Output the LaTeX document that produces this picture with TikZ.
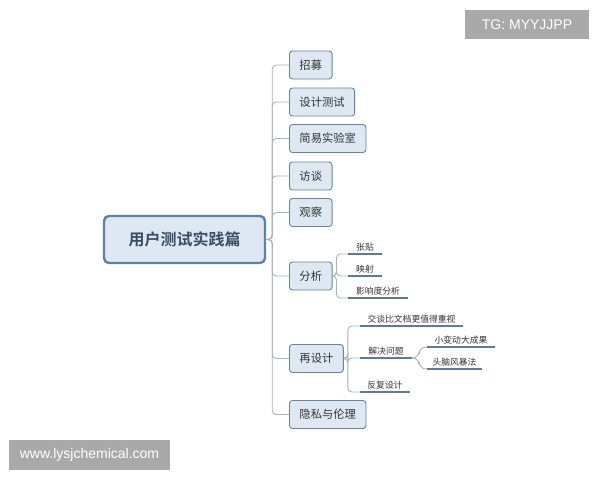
\documentclass[tikz,border=0pt]{standalone}
\usepackage{fontspec}
\setmainfont{Liberation Sans}
\newfontfamily\cjk{Noto Sans CJK SC}
\newfontfamily\cjkb{Noto Sans CJK SC Bold}
\definecolor{boxfill}{HTML}{DDE8F2}
\definecolor{boxdraw}{HTML}{6B8299}
\definecolor{rootdraw}{HTML}{5B82AD}
\definecolor{roottext}{HTML}{3B4E66}
\definecolor{conncol}{HTML}{A9B3BD}
\definecolor{ulcol}{HTML}{5F7A93}
\definecolor{wmfill}{HTML}{A9A9A9}
\begin{document}
\begin{tikzpicture}[x=1pt,y=-1pt,
  rootbox/.style={draw=rootdraw,line width=2.4pt,fill=boxfill,rounded corners=5pt,
    minimum width=161pt,minimum height=47pt,inner sep=0pt,
    font=\cjkb\fontsize{16}{18}\selectfont,text=roottext},
  childbox/.style={draw=boxdraw,line width=0.9pt,fill=boxfill,rounded corners=3pt,
    minimum height=28pt,inner xsep=10pt,inner ysep=0pt,anchor=west,
    font=\cjk\fontsize{11.3}{13}\selectfont,text=black!80},
  leaf/.style={anchor=south,inner xsep=0pt,inner ysep=3pt,
    font=\cjk\fontsize{8.8}{10}\selectfont,text=black!80},
  uline/.style={draw=ulcol,line width=1.6pt},
  conn/.style={draw=conncol,line width=0.9pt,rounded corners=4pt},
  wm/.style={fill=wmfill,text=white,inner sep=0pt,font=\fontsize{14}{16}\selectfont}
]
\useasboundingbox (0,0) rectangle (600,480);
\fill[white] (0,0) rectangle (600,480);

% root
\node[rootbox] (root) at (184.5,239.5) {用户测试实践篇};

% children
\node[childbox] (c1) at (289,65) {招募};
\node[childbox] (c2) at (289,102) {设计测试};
\node[childbox] (c3) at (289,138.5) {简易实验室};
\node[childbox] (c4) at (289,176) {访谈};
\node[childbox] (c5) at (289,212.5) {观察};
\node[childbox] (c6) at (289,276) {分析};
\node[childbox] (c7) at (289,358.5) {再设计};
\node[childbox] (c8) at (289,414.5) {隐私与伦理};

\foreach \c in {c1,c2,c3,c4,c5,c6,c7,c8}{
  \draw[conn] (root.east) -- ++(6,0) |- (\c.west);
}

% 分析 leaves
\node[leaf,minimum width=34pt] (a1) at (365,254) {张贴};
\node[leaf,minimum width=34pt] (a2) at (365,276) {映射};
\node[leaf,minimum width=60pt] (a3) at (378,298) {影响度分析};
\foreach \a in {a1,a2,a3}{
  \draw[conn] (c6.east) -- ++(4,0) |- (\a.south west);
  \draw[uline] (\a.south west) -- (\a.south east);
}

% 再设计 leaves
\node[leaf,minimum width=103pt] (b1) at (411.5,326) {交谈比文档更值得重视};
\node[leaf,minimum width=52pt] (b2) at (386,358) {解决问题};
\node[leaf,minimum width=50pt] (b3) at (385,392) {反复设计};
\foreach \b in {b1,b2,b3}{
  \draw[conn] (c7.east) -- ++(4,0) |- (\b.south west);
  \draw[uline] (\b.south west) -- (\b.south east);
}

% 解决问题 leaves
\node[leaf,minimum width=68pt] (d1) at (461,347) {小变动大成果};
\node[leaf,minimum width=55pt] (d2) at (454.5,369) {头脑风暴法};
\foreach \d in {d1,d2}{
  \draw[conn,rounded corners=7pt] (b2.south east) -- ++(7,0) |- (\d.south west);
  \draw[uline] (\d.south west) -- (\d.south east);
}

% watermarks
\node[wm,minimum width=124pt,minimum height=29pt] (wm1) at (527,24.5) {TG: MYYJJPP};
\node[wm,minimum width=161pt,minimum height=30pt] (wm2) at (89.5,455) {www.lysjchemical.com};
\end{tikzpicture}
\end{document}
